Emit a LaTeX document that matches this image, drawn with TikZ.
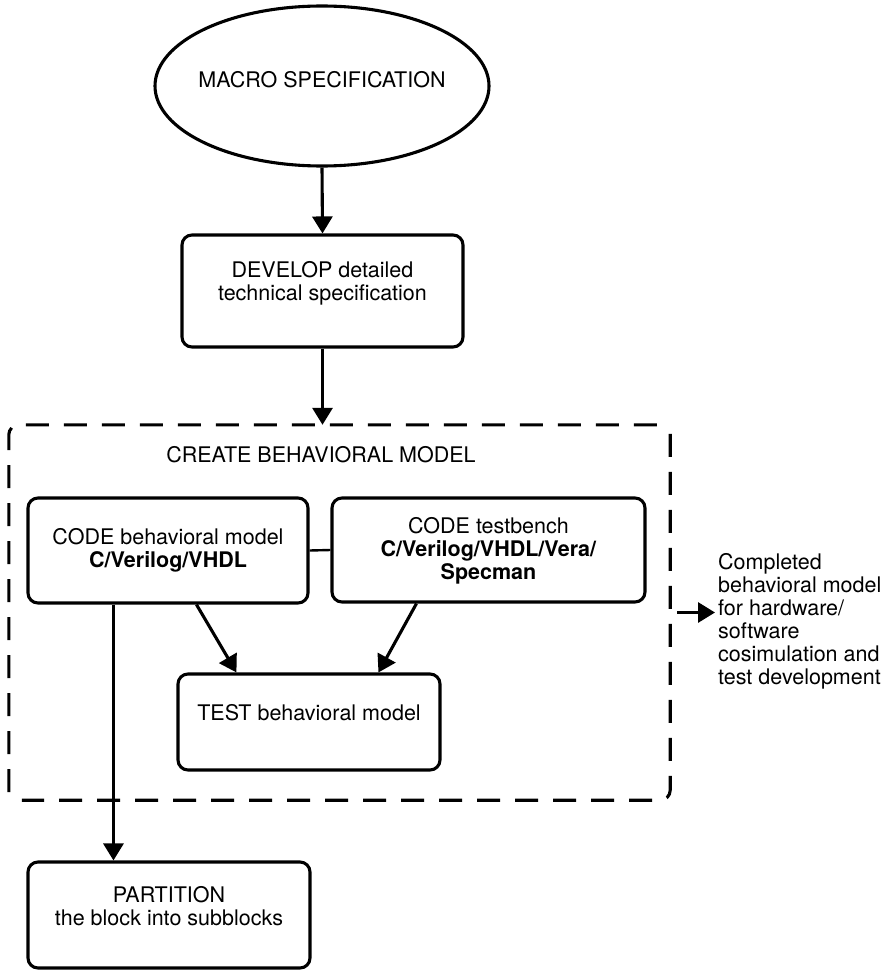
\documentclass[tikz,border=0pt]{standalone}
\usepackage{fontspec}
\setmainfont{TeX Gyre Heros}
\usetikzlibrary{shapes.geometric,arrows.meta}

\tikzset{
  base/.style={font=\fontsize{21.5}{23}\selectfont},
  stepbox/.style={draw, line width=3.1pt, rounded corners=10pt, inner sep=0pt},
  oval/.style={draw, ellipse, line width=3.1pt, inner sep=0pt},
  lbl/.style={base, align=center, inner sep=0pt},
  flow/.style={line width=3.1pt, -{Triangle[length=17pt,width=20pt]}},
  link/.style={line width=2.4pt},
  group/.style={inner sep=0pt},
  groupline/.style={dash pattern=on 23pt off 15pt, line width=3.1pt, rounded corners=10pt}
}

\begin{document}
\begin{tikzpicture}[x=1pt, y=-1pt]
  \useasboundingbox (0,0) rectangle (889,971);

  % start of the flow
  \node[oval, minimum width=334pt, minimum height=160pt] (spec) at (322,86) {};
  \node[lbl] (spect) at (322,80) {MACRO SPECIFICATION};

  % detailed specification step
  \node[stepbox, minimum width=281pt, minimum height=112pt] (dev) at (322.5,291) {};
  \node[lbl] (devt) at (322.5,283) {DEVELOP detailed\\technical specification};

  % behavioral model group (dashed outline drawn in two strokes)
  \node[group, minimum width=661pt, minimum height=375pt] (grp) at (339.5,612.5) {};
  \draw[groupline] ([yshift=8pt]grp.south west) -- (grp.north west) -- ([xshift=-11pt]grp.north east);
  \draw[groupline] ([yshift=-9pt]grp.north east) -- (grp.south east) -- ([xshift=13pt]grp.south west);
  \node[lbl] (grpt) at (321,455) {CREATE BEHAVIORAL MODEL};

  \node[stepbox, minimum width=280pt, minimum height=105pt] (cbm) at (168,550.5) {};
  \node[lbl] (cbmt) at (168,550) {CODE behavioral model\\\textbf{C/Verilog/VHDL}};

  \node[stepbox, minimum width=313pt, minimum height=104pt] (ctb) at (488.5,550) {};
  \node[lbl] (ctbt) at (488.5,551) {CODE testbench\\\textbf{C/Verilog/VHDL/Vera/}\\\textbf{Specman}};

  \node[stepbox, minimum width=262pt, minimum height=96pt] (tst) at (309,722) {};
  \node[lbl] (tstt) at (309,713) {TEST behavioral model};

  % partitioning step
  \node[stepbox, minimum width=282pt, minimum height=106pt] (part) at (169,915) {};
  \node[lbl] (partt) at (169,906) {PARTITION\\the block into subblocks};

  % result of the group
  \node[base, align=left, anchor=west, inner sep=0pt] (out) at (718,621)
    {Completed\\behavioral model\\for hardware/\\software\\cosimulation and\\test development};

  % connectors
  \draw[flow] (spec.south) -- (dev.north);
  \draw[flow] (dev.south) -- (dev.south |- grp.north);
  \draw[link] (cbm.east) -- (ctb.west);
  \draw[flow] ([xshift=170pt]cbm.south west) -- ([xshift=60pt]tst.north west);
  \draw[flow] ([xshift=86pt]ctb.south west) -- ([xshift=202pt]tst.north west);
  \draw[flow] ([xshift=87pt]cbm.south west) -- ([xshift=87pt]cbm.south west |- part.north);
  \draw[flow] ([xshift=7pt]grp.east) -- ([xshift=-3pt]out.west |- grp.east);
\end{tikzpicture}
\end{document}
